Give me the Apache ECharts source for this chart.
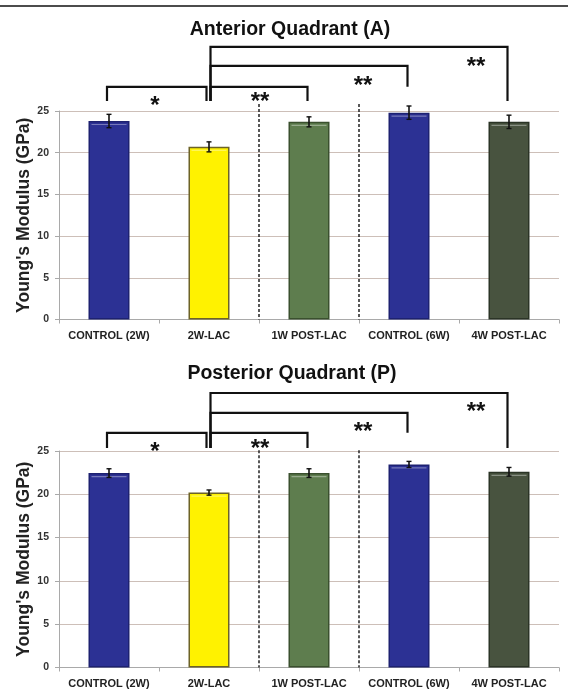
<!DOCTYPE html>
<html><head><meta charset="utf-8">
<script src="https://cdn.jsdelivr.net/npm/echarts@6/dist/echarts.min.js"></script>
<style>html,body{margin:0;padding:0;background:#fff}#c{width:568px;height:692px}</style>
</head><body><div id="c"></div>
<script>
// ---- data ----
const categories = ['CONTROL (2W)', '2W-LAC', '1W POST-LAC', 'CONTROL (6W)', '4W POST-LAC'];
const anteriorValues = [23.8, 20.7, 23.7, 24.8, 23.7];
const anteriorErrors = [0.8, 0.6, 0.6, 0.8, 0.8];
const posteriorValues = [22.45, 20.2, 22.45, 23.45, 22.6];
const posteriorErrors = [0.5, 0.3, 0.5, 0.35, 0.5];
const titles = ['Anterior Quadrant (A)', 'Posterior Quadrant (P)'];
const yAxisName = "Young's Modulus (GPa)";
// significance brackets: from category, to category, label
const bracketFrom = [0, 1, 1, 1];
const bracketTo = [1, 2, 3, 4];
const bracketLabels = ['*', '**', '**', '**'];
const bracketStarCat = [0.46, 1.51, 2.54, 3.67];
// bracket heights (in GPa units of each panel)
const anteriorBracketLevel = [27.9, 27.9, 30.4, 32.7];
const anteriorBracketBase = [26.2, 26.2, 26.2, 26.2];
const anteriorBracketRightEnd = [26.2, 26.2, 27.9, 26.2];
const anteriorStarLevel = [26.3, 26.7, 28.7, 31.0];
const posteriorBracketLevel = [27.1, 27.1, 29.4, 31.7];
const posteriorBracketBase = [25.35, 25.35, 25.35, 25.35];
const posteriorBracketRightEnd = [25.35, 25.35, 27.1, 25.35];
const posteriorStarLevel = [25.5, 25.9, 27.8, 30.1];
// dashed separators after these categories
const dividerAfter = [1, 2];
const anteriorDividerTop = 25.85;
const posteriorDividerTop = 25.1;

// ---- styles ----
const FONT = 'Liberation Sans, Arial, sans-serif';
const barColors = ['#2c3194', '#fff200', '#5e7d4e', '#2c3194', '#48533f'];
const barBorders = ['#1d2171', '#6d6326', '#3a502e', '#1d2171', '#2b3426'];

const chart = echarts.init(document.getElementById('c'), null, {renderer: 'canvas'});

function errorSeries(idx, vals, errs) {
  return {
    type: 'custom', xAxisIndex: idx, yAxisIndex: idx, clip: false, z: 5,
    data: vals.map((v, i) => [i, v, v - errs[i], v + errs[i]]),
    renderItem: function (params, api) {
      const i = api.value(0);
      const pv = api.coord([i, api.value(1)]);
      const lo = api.coord([i, api.value(2)]);
      const hi = api.coord([i, api.value(3)]);
      const bw = 41;
      const c = 2.5;
      return {
        type: 'group',
        children: [
          {type: 'line', shape: {x1: pv[0] - bw / 2 + 3, y1: pv[1] + 3.5, x2: pv[0] + bw / 2 - 3, y2: pv[1] + 3.5},
            style: {stroke: 'rgba(255,255,255,0.35)', lineWidth: 1.2}},
          {type: 'line', shape: {x1: hi[0], y1: hi[1], x2: lo[0], y2: lo[1]}, style: {stroke: '#111', lineWidth: 1.6}},
          {type: 'line', shape: {x1: hi[0] - c, y1: hi[1], x2: hi[0] + c, y2: hi[1]}, style: {stroke: '#111', lineWidth: 1.4}},
          {type: 'line', shape: {x1: lo[0] - c, y1: lo[1], x2: lo[0] + c, y2: lo[1]}, style: {stroke: '#111', lineWidth: 1.4}}
        ]
      };
    }
  };
}

function bracketSeries(idx, level, base, rightEnd, starLevel) {
  return {
    type: 'custom', xAxisIndex: idx, yAxisIndex: idx, clip: false, z: 6,
    data: bracketFrom.map((f, k) => [f, bracketTo[k], level[k], base[k], rightEnd[k], bracketStarCat[k], starLevel[k], k]),
    renderItem: function (params, api) {
      const f = api.value(0), t = api.value(1);
      const k = api.value(7);
      const a = api.coord([f, api.value(2)]);
      const b = api.coord([t, api.value(2)]);
      const aBase = api.coord([f, api.value(3)]);
      const bEnd = api.coord([t, api.value(4)]);
      const sc = api.value(5);
      const sBase = Math.floor(sc);
      const band = api.size([1, 0])[0];
      const s0 = api.coord([sBase, api.value(6)]);
      const sx = s0[0] + (sc - sBase) * band;
      const lx = a[0] + (f === 1 ? 1.5 : -2);
      const rx = b[0] + (t === 1 ? -2.5 : -1.5);
      return {
        type: 'group',
        children: [
          {type: 'polyline', shape: {points: [[lx, aBase[1]], [lx, a[1]], [rx, b[1]], [rx, bEnd[1]]]},
            style: {stroke: '#111', lineWidth: 2.2, fill: null}},
          {type: 'text', x: sx, y: s0[1] + 6,
            style: {text: bracketLabels[k], fill: '#111', font: 'bold 24px ' + FONT, align: 'center', verticalAlign: 'middle'}}
        ]
      };
    }
  };
}

function dividerSeries(idx, topLevel) {
  return {
    type: 'custom', xAxisIndex: idx, yAxisIndex: idx, clip: false, z: 4,
    data: dividerAfter.map(d => [d, topLevel]),
    renderItem: function (params, api) {
      const c = api.value(0);
      const half = api.size([1, 0])[0] / 2;
      const top = api.coord([c, api.value(1)]);
      const bot = api.coord([c, 0]);
      const x = top[0] + half;
      return {type: 'line', shape: {x1: x, y1: top[1], x2: x, y2: bot[1]},
        style: {stroke: '#222', lineWidth: 1.5, lineDash: [3, 2]}};
    }
  };
}

function barSeries(idx, vals) {
  return {
    type: 'bar', xAxisIndex: idx, yAxisIndex: idx, barWidth: 41, z: 3,
    data: vals.map((v, i) => ({value: v, itemStyle: {color: barColors[i], borderColor: barBorders[i], borderWidth: 1.5}}))
  };
}

function xAxis(idx) {
  return {
    type: 'category', gridIndex: idx, data: categories,
    axisLine: {lineStyle: {color: '#a9a9a9', width: 1}},
    axisTick: {show: true, length: 4, lineStyle: {color: '#a9a9a9'}},
    axisLabel: {interval: 0, margin: 11, color: '#222', fontFamily: FONT, fontWeight: 'bold', fontSize: 11}
  };
}
function yAxis(idx) {
  return {
    type: 'value', gridIndex: idx, min: 0, max: 25, interval: 5,
    name: yAxisName, nameLocation: 'middle', nameGap: 26, nameMoveOverlap: false,
    nameTextStyle: {fontFamily: FONT, fontWeight: 'bold', fontSize: 17.5, color: '#222'},
    axisLine: {show: true, lineStyle: {color: '#a9a9a9', width: 1}},
    axisTick: {show: true, length: 4, lineStyle: {color: '#a9a9a9'}},
    axisLabel: {margin: 10, color: '#333', fontFamily: FONT, fontWeight: 'bold', fontSize: 10.5},
    splitLine: {lineStyle: {color: '#cdbfb8', width: 1}}
  };
}

chart.setOption({
  animation: false,
  backgroundColor: '#fff',
  title: [
    {text: titles[0], left: 290, top: 20, textAlign: 'center', padding: 0,
      textStyle: {fontFamily: FONT, fontWeight: 'bold', fontSize: 19.5, color: '#111'}},
    {text: titles[1], left: 292, top: 364, textAlign: 'center', padding: 0,
      textStyle: {fontFamily: FONT, fontWeight: 'bold', fontSize: 19.5, color: '#111'}}
  ],
  graphic: [{type: 'line', shape: {x1: 0, y1: 6, x2: 568, y2: 6}, style: {stroke: '#111', lineWidth: 1.5}}],
  grid: [
    {left: 59, right: 9, top: 111, height: 208.5},
    {left: 59, right: 9, top: 451, height: 216.5}
  ],
  xAxis: [xAxis(0), xAxis(1)],
  yAxis: [yAxis(0), yAxis(1)],
  series: [
    barSeries(0, anteriorValues),
    errorSeries(0, anteriorValues, anteriorErrors),
    dividerSeries(0, anteriorDividerTop),
    bracketSeries(0, anteriorBracketLevel, anteriorBracketBase, anteriorBracketRightEnd, anteriorStarLevel),
    barSeries(1, posteriorValues),
    errorSeries(1, posteriorValues, posteriorErrors),
    dividerSeries(1, posteriorDividerTop),
    bracketSeries(1, posteriorBracketLevel, posteriorBracketBase, posteriorBracketRightEnd, posteriorStarLevel)
  ]
});
</script>
</body></html>
